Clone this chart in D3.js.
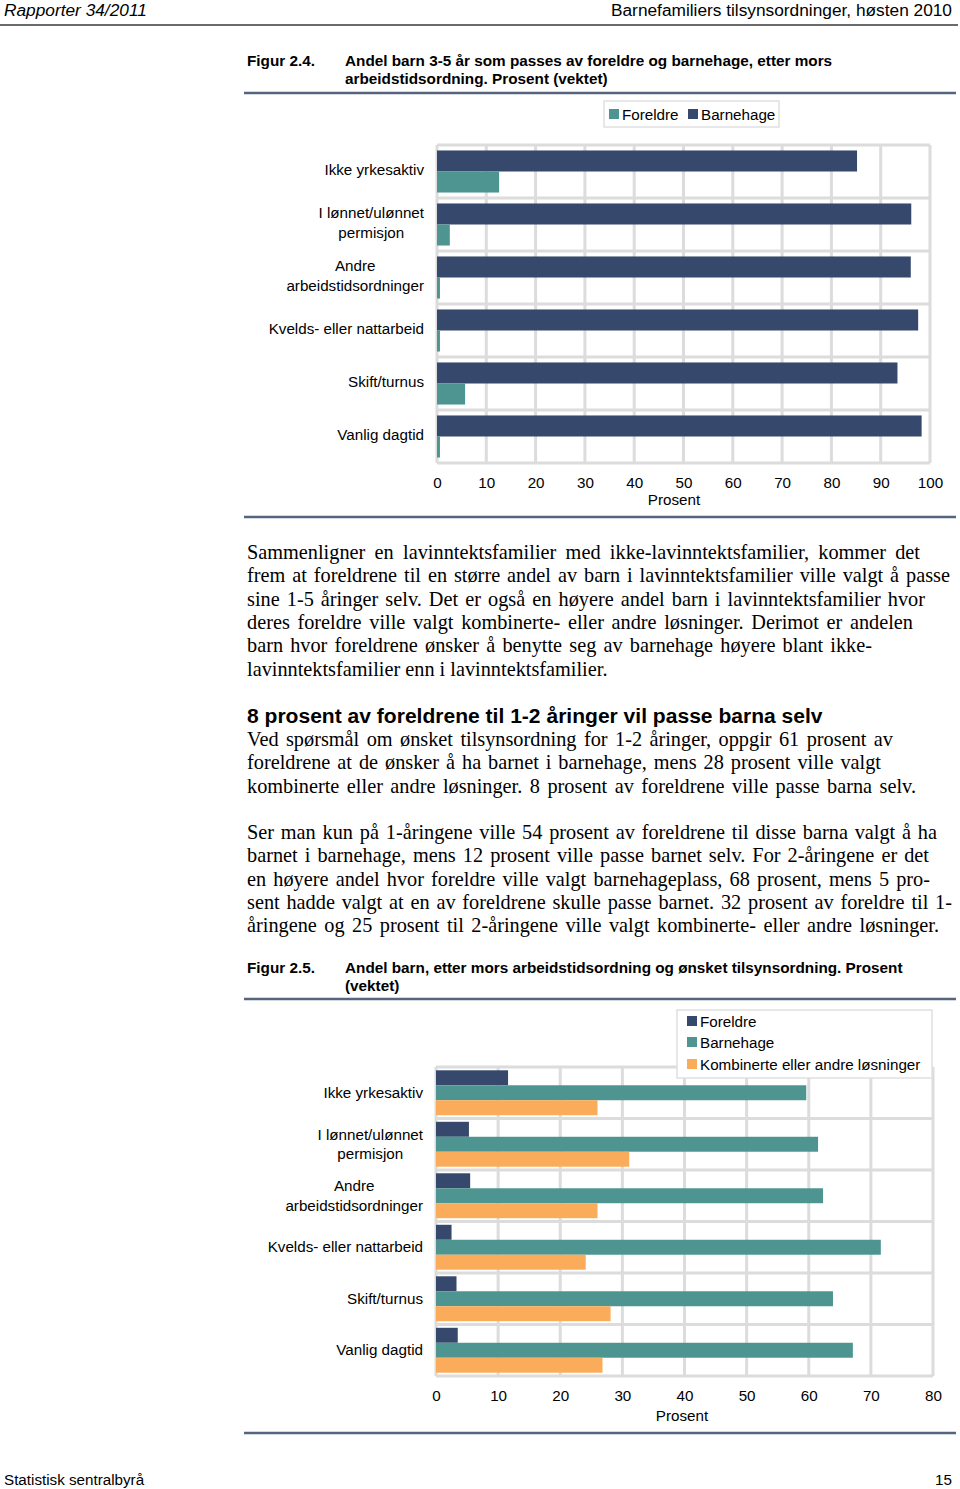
<!DOCTYPE html>
<html>
<head>
<meta charset="utf-8">
<script src="https://cdn.jsdelivr.net/npm/d3@7"></script>
<style>
  body { margin: 0; background: #fff; }
  svg text { fill: #000; }
</style>
</head>
<body>
<div id="page"></div>
<script>
// ---- data ----
const categories = ["Ikke yrkesaktiv", "I lønnet/ulønnet|permisjon", "Andre|arbeidstidsordninger",
                    "Kvelds- eller nattarbeid", "Skift/turnus", "Vanlig dagtid"];

// Figur 2.4
const fig1Series = ["Barnehage", "Foreldre"];
const fig1Barnehage = [85.2, 96.2, 96.1, 97.6, 93.4, 98.3];
const fig1Foreldre = [12.6, 2.6, 0.6, 0.6, 5.7, 0.6];
const fig1Ticks = [0, 10, 20, 30, 40, 50, 60, 70, 80, 90, 100];

// Figur 2.5
const fig2Series = ["Foreldre", "Barnehage", "Kombinerte eller andre løsninger"];
const fig2Foreldre = [11.6, 5.3, 5.5, 2.5, 3.3, 3.5];
const fig2Barnehage = [59.6, 61.5, 62.3, 71.6, 63.9, 67.1];
const fig2Kombinerte = [26.0, 31.1, 26.0, 24.1, 28.1, 26.8];
const fig2Ticks = [0, 10, 20, 30, 40, 50, 60, 70, 80];

const navy = "#36486b", teal = "#4e9592", orange = "#fbac5a";
const sans = "'Liberation Sans', Arial, sans-serif";
const serif = "'Liberation Serif', 'Times New Roman', serif";
const fs = 15.2; // chart font size

const svg = d3.select("#page").append("svg")
    .attr("width", 960)
    .attr("height", 1489);

// ---- page header / footer ----
svg.append("text").attr("x", 4).attr("y", 15.5).attr("font-family", sans)
    .attr("font-size", 17.3).attr("font-style", "italic").text("Rapporter 34/2011");
svg.append("text").attr("x", 952).attr("y", 15.5).attr("font-family", sans)
    .attr("font-size", 17.3).attr("text-anchor", "end").text("Barnefamiliers tilsynsordninger, høsten 2010");
svg.append("line").attr("x1", 0).attr("x2", 958).attr("y1", 25).attr("y2", 25)
    .attr("stroke", "#3a3a3a").attr("stroke-width", 1.5);

svg.append("text").attr("x", 4).attr("y", 1485).attr("font-family", sans)
    .attr("font-size", 15.2).text("Statistisk sentralbyrå");
svg.append("text").attr("x", 952).attr("y", 1485).attr("font-family", sans)
    .attr("font-size", 15.2).attr("text-anchor", "end").text("15");

function rule(y) {
    svg.append("line").attr("x1", 244).attr("x2", 956).attr("y1", y).attr("y2", y)
        .attr("stroke", "#56647f").attr("stroke-width", 2.5);
}

function figTitle(num, lines, y) {
    svg.append("text").attr("x", 247).attr("y", y).attr("font-family", sans)
        .attr("font-size", 15.3).attr("font-weight", "bold").text(num);
    lines.forEach((l, i) => {
        svg.append("text").attr("x", 345).attr("y", y + i * 18).attr("font-family", sans)
            .attr("font-size", 15.3).attr("font-weight", "bold").text(l);
    });
}

// ---- body text (each line stretched to where it ends in the page) ----
function textLines(lines, y0, justify) {
    lines.forEach((l, i) => {
        const t = svg.append("text").attr("x", 247).attr("y", y0 + i * 23.3)
            .attr("font-family", serif).attr("font-size", 20.3).text(l);
        const target = justify[i];
        if (target) {
            const len = t.node().getComputedTextLength();
            const spaces = (l.match(/ /g) || []).length;
            if (spaces > 0) t.attr("word-spacing", (target - 247 - len) / spaces);
        }
    });
}

// ---- chart ----
function drawChart(opt) {
    const g = svg.append("g");
    const x = d3.scaleLinear().domain([0, opt.max]).range([opt.left, opt.right]);
    const y = d3.scaleBand().domain(categories).range([opt.top, opt.bottom]);
    const y1 = d3.scaleBand().domain(opt.series).range([0, y.bandwidth()]).paddingOuter(opt.pad);

    // grid
    g.append("g").selectAll("line").data(opt.ticks).join("line")
        .attr("x1", d => x(d)).attr("x2", d => x(d))
        .attr("y1", opt.top).attr("y2", opt.bottom)
        .attr("stroke", "#dcdcdc").attr("stroke-width", 3);
    const bounds = categories.map(c => y(c)).concat([opt.bottom]);
    g.append("g").selectAll("line").data(bounds).join("line")
        .attr("x1", opt.left).attr("x2", opt.right)
        .attr("y1", d => d).attr("y2", d => d)
        .attr("stroke", "#dcdcdc").attr("stroke-width", 3);

    // bars
    opt.series.forEach((s, si) => {
        g.append("g").selectAll("rect").data(categories).join("rect")
            .attr("x", x(0))
            .attr("y", c => y(c) + y1(s))
            .attr("width", (c, i) => x(opt.values[si][i]) - x(0))
            .attr("height", y1.bandwidth())
            .attr("fill", opt.colors[si]);
    });

    // category labels
    categories.forEach(c => {
        const parts = c.split("|");
        const tmp = g.append("g");
        const texts = parts.map(p => tmp.append("text").attr("font-family", sans)
            .attr("font-size", fs).attr("text-anchor", "middle").text(p));
        const w = d3.max(texts, t => t.node().getComputedTextLength());
        const cy = y(c) + y.bandwidth() / 2;
        texts.forEach((t, i) => {
            t.attr("x", opt.left - 13 - w / 2)
             .attr("y", cy + opt.labelDy + (i - (parts.length - 1) / 2) * 19.5);
        });
    });

    // x axis
    const axis = g.append("g").attr("transform", `translate(0,${opt.bottom})`)
        .call(d3.axisBottom(x).tickValues(opt.ticks).tickSize(0).tickPadding(14));
    axis.select(".domain").remove();
    axis.selectAll("text").attr("font-family", sans).attr("font-size", fs).attr("fill", "#000");
    g.append("text").attr("x", opt.titleX).attr("y", opt.bottom + opt.titleDy)
        .attr("font-family", sans).attr("font-size", fs).attr("text-anchor", "middle").text("Prosent");

    // legend
    const lg = g.append("g");
    lg.append("rect").attr("x", opt.legend.x).attr("y", opt.legend.y)
        .attr("width", opt.legend.w).attr("height", opt.legend.h)
        .attr("fill", "#fff").attr("stroke", "#e0e0e0").attr("stroke-width", 1.5);
    opt.legend.items.forEach((it, i) => {
        lg.append("rect").attr("x", it.x).attr("y", it.y - 5).attr("width", 10).attr("height", 10)
            .attr("fill", it.color);
        lg.append("text").attr("x", it.x + 13).attr("y", it.y + 5.5).attr("font-family", sans)
            .attr("font-size", fs).text(it.label);
    });
}

// Figur 2.4
figTitle("Figur 2.4.", ["Andel barn 3-5 år som passes av foreldre og barnehage, etter mors",
                        "arbeidstidsordning. Prosent (vektet)"], 66);
rule(93);
drawChart({
    left: 437, right: 930, top: 145, bottom: 463, max: 100, pad: 0.26, labelDy: 3.5,
    ticks: fig1Ticks, series: fig1Series, values: [fig1Barnehage, fig1Foreldre],
    colors: [navy, teal], titleX: 674, titleDy: 42,
    legend: { x: 604, y: 101, w: 175, h: 26, items: [
        { x: 609, y: 114, color: teal, label: "Foreldre" },
        { x: 688, y: 114, color: navy, label: "Barnehage" }] }
});
rule(517);

textLines([
    "Sammenligner en lavinntektsfamilier med ikke-lavinntektsfamilier, kommer det",
    "frem at foreldrene til en større andel av barn i lavinntektsfamilier ville valgt å passe",
    "sine 1-5 åringer selv. Det er også en høyere andel barn i lavinntektsfamilier hvor",
    "deres foreldre ville valgt kombinerte- eller andre løsninger. Derimot er andelen",
    "barn hvor foreldrene ønsker å benytte seg av barnehage høyere blant ikke-",
    "lavinntektsfamilier enn i lavinntektsfamilier."
], 559, [920, 950, 925, 913, 872, 0]);

svg.append("text").attr("x", 247).attr("y", 723).attr("font-family", sans)
    .attr("font-size", 21.05).attr("font-weight", "bold")
    .text("8 prosent av foreldrene til 1-2 åringer vil passe barna selv");

textLines([
    "Ved spørsmål om ønsket tilsynsordning for 1-2 åringer, oppgir 61 prosent av",
    "foreldrene at de ønsker å ha barnet i barnehage, mens 28 prosent ville valgt",
    "kombinerte eller andre løsninger. 8 prosent av foreldrene ville passe barna selv."
], 746, [893, 881, 916]);

textLines([
    "Ser man kun på 1-åringene ville 54 prosent av foreldrene til disse barna valgt å ha",
    "barnet i barnehage, mens 12 prosent ville passe barnet selv. For 2-åringene er det",
    "en høyere andel hvor foreldre ville valgt barnehageplass, 68 prosent, mens 5 pro-",
    "sent hadde valgt at en av foreldrene skulle passe barnet. 32 prosent av foreldre til 1-",
    "åringene og 25 prosent til 2-åringene ville valgt kombinerte- eller andre løsninger."
], 839, [937, 929, 930, 952, 939]);

// Figur 2.5
figTitle("Figur 2.5.", ["Andel barn, etter mors arbeidstidsordning og ønsket tilsynsordning. Prosent",
                        "(vektet)"], 973);
rule(999);
drawChart({
    left: 436, right: 933, top: 1067, bottom: 1376, max: 80, pad: 0.22, labelDy: 5,
    ticks: fig2Ticks, series: fig2Series, values: [fig2Foreldre, fig2Barnehage, fig2Kombinerte],
    colors: [navy, teal, orange], titleX: 682, titleDy: 45,
    legend: { x: 677, y: 1010, w: 255, h: 68, items: [
        { x: 687, y: 1021, color: navy, label: "Foreldre" },
        { x: 687, y: 1042, color: teal, label: "Barnehage" },
        { x: 687, y: 1064, color: orange, label: "Kombinerte eller andre løsninger" }] }
});
rule(1433);
</script>
</body>
</html>
